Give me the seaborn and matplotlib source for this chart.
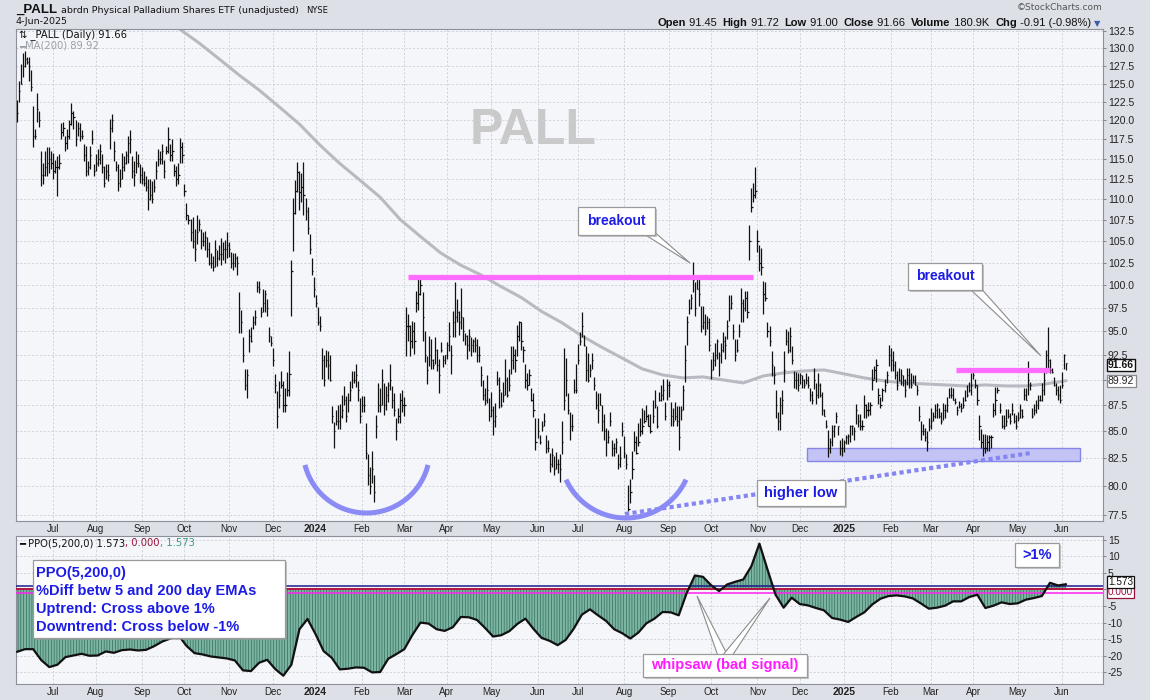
import matplotlib
matplotlib.use("Agg")
import matplotlib.pyplot as plt
import matplotlib.ticker as mticker
from matplotlib.lines import Line2D
from matplotlib.patches import Polygon, Rectangle
import numpy as np
import pandas as pd
import seaborn as sns

W, H = 1150, 700
LAST_DAY = "2025-06-04"

# daily bars (Jun 2023 -> 4 Jun 2025)
high = [
    122.8, 125.4, 127.8, 129.3, 129.6, 128.8, 128.8, 126.9, 121.9, 118.9, 123.7, 121.2, 116.0, 114.5, 116.0, 116.5, 116.5, 116.0, 115.8, 114.9,
    115.4, 115.6, 119.6, 119.8, 118.0, 118.9, 120.0, 122.4, 121.2, 120.0, 119.8, 119.6, 118.7, 116.9, 116.7, 114.7, 116.7, 118.7, 114.3, 115.6,
    116.3, 116.9, 115.6, 114.1, 114.3, 114.3, 120.2, 120.9, 117.3, 114.7, 114.3, 113.7, 115.8, 115.4, 116.0, 118.0, 118.7, 115.4, 114.7, 116.0,
    115.6, 114.3, 113.9, 113.5, 112.8, 112.4, 112.4, 112.2, 112.4, 114.7, 116.3, 116.0, 116.9, 114.9, 116.7, 119.1, 116.9, 117.5, 114.3, 114.1,
    114.5, 117.7, 117.1, 111.8, 109.5, 108.0, 107.6, 107.8, 106.4, 108.0, 107.6,
    106.4, 106.0, 106.2, 105.5, 104.9, 103.6, 103.2, 105.1, 103.9, 104.5, 105.3, 104.9, 105.1, 106.0, 104.9, 103.7, 103.6, 103.6, 103.3, 99.2,
    97.3, 94.4, 91.1, 91.1, 95.2, 95.4, 96.6, 97.3, 100.4, 100.4, 97.6, 99.5, 99.4, 98.4, 95.4, 94.5, 93.2, 90.6, 88.9, 89.9,
    90.9, 89.9, 89.2, 90.8, 92.9, 102.8, 110.1, 112.3, 114.6, 113.4, 113.2, 114.6, 110.1, 109.0, 105.8, 103.0, 100.9, 98.9, 97.6, 96.6,
    93.2, 92.5, 93.0, 92.9, 92.5, 87.4, 85.9, 87.0, 87.5, 87.6, 88.5, 89.4, 88.4, 88.7, 89.9, 90.9, 90.9, 91.6, 89.9, 88.2,
    88.4, 88.4, 85.8, 82.9, 81.7, 83.2, 81.0,
    86.6, 89.7, 89.2, 91.1, 89.7, 89.4, 89.8, 91.6, 89.4, 88.7, 86.3, 87.2, 88.7, 89.0, 88.3, 97.6, 96.8, 95.7, 96.1, 96.0,
    99.3, 100.8, 101.1, 99.2, 95.0, 92.4, 94.5, 94.2, 92.1, 94.4, 93.1, 92.1, 93.9, 92.5, 92.5, 93.9, 96.0, 93.5, 97.1, 100.3,
    98.4, 97.1, 99.7, 96.5, 94.8, 94.6, 95.2, 94.4, 94.2, 94.4, 94.2, 93.4, 91.4, 90.0, 89.2, 90.5, 88.2, 88.8, 87.4, 87.7,
    90.9, 90.3, 88.8, 89.8, 92.1, 90.3, 91.1, 93.4, 93.4, 93.1, 95.7, 96.1, 96.0, 93.4, 91.6, 90.7, 91.1, 89.2, 88.7, 86.3,
    86.3, 84.7, 86.0, 86.8, 84.7, 84.2, 83.0,
    83.5, 82.7, 83.1, 82.4, 82.9, 86.0, 93.2, 92.2, 88.7, 86.9, 86.7, 90.1, 91.6, 93.7, 94.9, 97.0, 94.6, 93.4, 92.7, 91.6,
    92.7, 90.3, 88.9, 88.7, 88.7, 87.5, 86.7, 85.3, 85.1, 86.9, 84.2, 83.9, 84.4, 82.9, 83.6, 85.9, 84.6, 82.9, 80.1, 80.6,
    83.2, 85.0, 84.6, 85.8, 86.3, 87.2, 87.0, 87.5, 86.7, 86.7, 88.0, 89.0, 87.4, 88.8, 89.5, 90.1, 87.8, 90.1, 89.9, 87.8,
    87.2, 87.8, 87.4, 87.4, 87.4, 89.5, 93.5, 96.6, 98.4, 99.0, 102.6, 100.3, 101.0, 100.8, 97.7, 97.7, 96.8, 96.6, 96.4, 92.1,
    92.8, 93.8, 94.2, 92.8, 93.8, 94.9, 94.5, 96.2,
    98.9, 98.9, 95.8, 94.2, 94.2, 95.8, 99.7, 98.4, 99.3, 99.3, 106.9, 111.3, 111.9, 113.9, 106.3, 104.5, 104.2, 100.4, 100.3, 96.0,
    95.5, 92.9, 91.4, 89.0, 86.9, 88.3, 89.0, 92.9, 95.2, 95.0, 95.4, 93.4, 90.9, 90.8, 90.7, 90.7, 90.5, 90.1, 90.7, 90.4,
    89.2, 88.9, 91.2, 89.7, 90.7, 89.7, 88.8, 87.1, 86.1, 85.1, 84.4, 85.6, 85.6, 86.9, 85.5, 84.2, 84.4, 84.2, 84.7, 84.8,
    85.6, 85.6, 85.4, 87.6, 86.7, 86.7, 86.1, 88.5, 87.6, 87.8, 87.8, 91.1, 91.4, 92.1, 89.2, 88.3, 89.2, 90.1, 90.9, 93.6,
    93.2, 92.9, 91.9, 90.9, 91.2,
    91.1, 90.5, 90.1, 91.2, 91.2, 90.7, 90.5, 90.5, 89.5, 87.4, 86.0, 85.7, 85.3, 85.0, 86.3, 87.2, 86.9, 87.6, 87.7, 87.2,
    86.9, 87.7, 87.6, 88.3, 89.2, 89.3, 89.2, 88.2, 87.4, 87.9, 87.7, 88.3, 89.0, 89.5, 89.8, 90.7, 91.1, 90.1, 89.5, 86.6,
    85.2, 84.8, 84.8, 84.7, 84.7, 84.7, 87.7, 89.3, 89.3, 87.7, 86.6, 86.6, 87.1, 87.1, 86.8, 87.7, 86.8, 86.6, 86.9, 87.6,
    87.1, 89.2, 89.2, 91.9, 89.8, 87.2, 87.6, 88.0, 88.5, 88.5, 89.7, 91.1, 93.0, 95.4, 92.1, 91.2, 90.3, 89.7, 89.4, 89.5,
    90.8, 92.6, 91.72,
]
low = [
    119.8, 122.5, 124.9, 125.9, 127.3, 127.8, 125.4, 124.0, 116.5, 117.5, 119.8, 119.1, 111.6, 111.8, 112.8, 112.8, 113.2, 113.7, 112.4, 113.2,
    110.3, 113.7, 117.5, 118.0, 116.0, 116.3, 117.5, 119.4, 118.9, 116.7, 118.0, 117.3, 117.5, 114.7, 112.8, 113.0, 113.7, 116.9, 112.8, 113.5,
    114.1, 114.3, 113.2, 111.4, 112.4, 112.2, 116.3, 118.5, 114.7, 113.5, 111.0, 111.4, 112.4, 113.5, 114.3, 114.5, 115.8, 112.6, 111.6, 113.2,
    113.9, 112.0, 111.8, 111.6, 111.0, 108.6, 109.9, 109.5, 110.8, 112.4, 114.1, 114.3, 114.3, 112.6, 115.6, 115.8, 114.7, 114.7, 112.8, 111.6,
    111.8, 114.5, 114.5, 110.3, 107.4, 107.0, 105.0, 104.2, 102.7, 104.6, 106.2,
    104.0, 104.4, 103.9, 103.1, 102.2, 101.9, 101.5, 102.0, 102.1, 102.8, 102.2, 102.8, 102.5, 103.0, 103.1, 101.9, 101.7, 102.0, 101.1, 94.8,
    94.8, 91.8, 89.0, 88.2, 92.8, 93.9, 95.2, 95.6, 99.2, 99.1, 96.5, 97.0, 97.0, 96.6, 93.9, 93.4, 91.4, 88.7, 85.3, 87.2,
    89.2, 86.9, 86.9, 88.4, 88.4, 96.6, 103.8, 108.2, 110.9, 108.7, 109.6, 108.1, 107.5, 105.8, 103.5, 101.1, 98.7, 97.6, 95.6, 95.0,
    90.1, 89.4, 91.3, 90.1, 89.9, 85.8, 83.5, 85.6, 85.2, 85.2, 86.3, 87.5, 85.9, 86.9, 87.9, 89.2, 89.7, 89.3, 87.9, 85.8,
    86.9, 86.9, 82.4, 80.1, 79.3, 80.3, 78.6,
    84.4, 86.9, 86.9, 87.5, 86.6, 87.0, 87.8, 89.0, 87.2, 86.5, 84.2, 85.8, 85.8, 86.9, 86.5, 92.4, 94.0, 92.4, 93.2, 92.6,
    97.0, 97.2, 98.9, 94.0, 91.8, 89.6, 91.4, 91.1, 91.1, 91.6, 90.9, 88.7, 92.8, 91.3, 91.6, 92.1, 92.9, 90.6, 94.4, 94.4,
    96.0, 94.6, 95.2, 94.0, 93.5, 92.1, 92.9, 92.4, 92.8, 92.8, 91.8, 91.8, 89.4, 88.0, 87.5, 87.7, 86.0, 86.4, 84.7, 85.4,
    89.5, 87.2, 87.3, 87.8, 88.5, 88.3, 88.9, 90.6, 91.1, 90.8, 92.4, 94.0, 93.0, 91.8, 89.2, 89.0, 89.5, 87.9, 86.4, 83.3,
    84.4, 83.8, 85.0, 85.5, 83.0, 83.1, 81.3,
    81.7, 81.0, 81.5, 81.2, 80.4, 82.9, 87.0, 88.4, 86.7, 84.2, 85.0, 88.7, 88.7, 91.6, 93.5, 94.4, 93.4, 89.9, 89.8, 90.3,
    91.1, 89.0, 87.1, 85.8, 87.5, 85.0, 84.2, 82.7, 83.9, 85.5, 82.7, 82.7, 83.0, 81.5, 81.7, 84.6, 82.5, 81.5, 77.8, 78.5,
    80.6, 83.2, 82.9, 83.6, 84.6, 84.8, 85.8, 86.1, 85.5, 84.9, 85.8, 87.2, 85.3, 87.9, 87.9, 88.0, 86.1, 88.0, 88.3, 85.5,
    85.5, 86.1, 85.5, 83.3, 86.1, 87.0, 89.8, 93.5, 96.8, 97.4, 99.2, 96.6, 99.5, 97.7, 94.9, 95.2, 94.6, 95.2, 92.9, 90.1,
    91.0, 91.4, 92.1, 90.4, 91.7, 92.8, 92.1, 94.2,
    96.1, 97.4, 94.2, 91.9, 92.8, 94.4, 96.0, 96.0, 97.1, 96.4, 102.8, 108.4, 109.6, 110.1, 103.7, 101.5, 101.1, 96.8, 98.2, 94.4,
    93.4, 90.4, 89.6, 86.3, 85.1, 85.1, 86.7, 89.8, 93.5, 92.7, 92.8, 91.6, 89.2, 89.1, 88.9, 89.6, 89.2, 89.2, 89.6, 89.2,
    87.9, 87.6, 89.1, 87.6, 88.2, 88.3, 86.6, 86.5, 85.3, 82.6, 83.0, 83.6, 84.5, 85.8, 84.7, 82.8, 82.7, 83.1, 83.8, 83.8,
    84.0, 84.7, 84.2, 85.7, 85.4, 85.1, 85.1, 86.3, 86.3, 86.5, 86.6, 89.0, 90.1, 89.8, 87.6, 87.2, 87.9, 88.8, 89.7, 91.4,
    90.9, 90.9, 90.1, 89.0, 89.9,
    89.5, 89.4, 88.3, 89.5, 89.2, 89.2, 89.7, 89.5, 88.5, 86.0, 84.2, 84.7, 84.1, 83.2, 85.0, 85.2, 86.0, 86.3, 86.3, 86.3,
    85.7, 86.1, 86.3, 86.9, 88.2, 88.2, 88.0, 87.6, 86.6, 87.2, 86.9, 87.2, 87.9, 88.3, 88.8, 88.5, 90.1, 89.2, 87.5, 84.2,
    83.5, 82.7, 83.0, 83.2, 83.2, 83.5, 86.4, 86.6, 88.7, 86.8, 85.3, 85.2, 85.5, 86.3, 85.7, 86.6, 85.8, 85.2, 86.0, 86.3,
    86.3, 88.0, 88.0, 88.5, 89.0, 86.3, 86.6, 86.8, 87.1, 87.9, 87.9, 88.5, 90.7, 91.1, 90.7, 90.7, 89.4, 88.5, 88.0, 87.7,
    89.2, 91.1, 91.00,
]
close = [
    121.0, 124.0, 125.0, 127.5, 128.5, 128.0, 127.5, 124.5, 118.0, 118.0, 121.5, 120.0, 113.0, 113.0, 114.0, 114.5, 115.0, 114.5, 113.5, 114.0,
    114.0, 114.5, 118.5, 119.0, 117.0, 118.0, 119.5, 121.0, 120.5, 117.5, 119.0, 118.0, 118.0, 115.5, 113.5, 114.0, 115.5, 117.5, 113.5, 114.5,
    115.0, 116.0, 114.0, 112.0, 113.5, 113.0, 119.0, 120.0, 116.0, 114.0, 112.0, 112.5, 114.0, 114.5, 115.5, 117.0, 117.5, 113.5, 113.0, 114.5,
    114.5, 113.0, 112.5, 112.0, 111.5, 110.0, 110.5, 110.0, 111.5, 113.5, 115.0, 115.0, 116.0, 113.5, 116.0, 117.5, 115.5, 116.0, 113.5, 112.5,
    113.0, 116.5, 115.5, 111.0, 108.0, 107.5, 106.0, 105.0, 104.0, 106.0, 107.0,
    105.0, 105.0, 105.5, 104.0, 102.5, 102.5, 102.0, 104.0, 103.0, 103.5, 103.5, 104.0, 104.0, 104.5, 104.0, 102.5, 102.5, 103.0, 102.5, 97.5,
    96.0, 92.5, 89.5, 90.5, 94.5, 94.0, 96.0, 96.5, 99.8, 99.5, 97.0, 98.0, 99.0, 97.5, 94.5, 93.8, 92.0, 89.5, 86.5, 88.5,
    89.5, 87.5, 87.5, 89.0, 90.6, 101.5, 108.3, 111.0, 113.3, 110.9, 111.5, 110.5, 108.5, 106.5, 104.0, 101.5, 99.5, 98.0, 96.0, 95.5,
    92.0, 90.0, 92.0, 91.5, 90.0, 86.5, 85.0, 86.0, 86.0, 86.5, 87.0, 88.0, 86.5, 88.0, 89.0, 90.0, 90.0, 90.5, 89.0, 86.5,
    87.5, 87.5, 83.0, 81.0, 80.0, 81.5, 79.5,
    85.5, 87.5, 87.5, 90.0, 87.5, 88.5, 89.5, 90.0, 88.0, 87.0, 85.0, 86.5, 88.0, 87.5, 87.5, 95.5, 95.5, 94.0, 95.0, 94.0,
    98.0, 99.0, 100.0, 96.5, 92.5, 91.0, 92.5, 92.0, 91.5, 93.0, 91.5, 90.5, 93.0, 92.0, 92.5, 93.5, 94.5, 92.5, 96.0, 96.5,
    97.0, 96.0, 96.5, 95.0, 94.5, 93.5, 94.5, 93.5, 94.0, 93.5, 92.5, 92.5, 90.5, 88.5, 88.0, 89.0, 86.5, 87.0, 86.0, 86.5,
    90.0, 89.0, 87.5, 88.5, 90.0, 88.5, 89.5, 92.0, 92.5, 92.0, 94.5, 96.0, 94.0, 93.0, 90.0, 89.5, 90.5, 88.0, 87.0, 84.0,
    85.0, 84.0, 85.5, 86.0, 83.5, 83.5, 82.0,
    82.8, 81.5, 82.0, 82.0, 81.5, 84.0, 88.0, 90.0, 87.0, 85.5, 85.5, 89.0, 89.0, 92.0, 94.0, 95.5, 93.5, 91.0, 90.0, 91.0,
    92.0, 89.5, 87.5, 87.0, 87.5, 86.0, 85.0, 84.0, 84.5, 86.0, 83.5, 83.5, 84.0, 82.0, 82.5, 85.0, 83.0, 82.0, 78.0, 79.5,
    81.5, 84.0, 83.0, 84.0, 85.0, 85.5, 86.0, 86.5, 85.5, 85.0, 86.5, 87.5, 85.5, 88.0, 88.5, 89.0, 86.5, 89.5, 89.5, 86.5,
    86.0, 86.5, 86.0, 84.5, 87.0, 89.0, 92.0, 96.0, 97.5, 98.5, 100.5, 97.5, 99.5, 99.0, 95.5, 96.0, 95.0, 96.0, 93.5, 91.0,
    92.0, 92.5, 94.0, 92.5, 93.0, 94.0, 93.5, 95.5,
    97.5, 98.0, 95.0, 92.5, 93.0, 95.0, 98.0, 97.5, 98.5, 97.0, 105.0, 109.0, 110.5, 111.0, 105.0, 102.5, 102.0, 99.0, 98.5, 95.0,
    94.0, 91.5, 90.5, 87.5, 86.0, 87.5, 88.0, 91.0, 94.0, 93.0, 94.5, 92.0, 90.0, 90.0, 89.5, 90.5, 90.0, 89.5, 90.0, 89.5,
    88.5, 88.0, 90.0, 88.5, 89.5, 88.5, 87.0, 86.5, 85.5, 83.5, 84.0, 85.0, 85.5, 86.5, 85.5, 83.5, 83.5, 84.0, 84.5, 84.6,
    85.5, 85.5, 85.0, 87.0, 86.0, 85.5, 85.5, 87.5, 87.0, 87.0, 87.5, 90.0, 91.0, 91.5, 88.5, 87.5, 89.0, 89.5, 90.5, 92.5,
    92.0, 91.5, 90.5, 89.5, 90.0,
    90.5, 90.0, 89.0, 90.5, 90.0, 89.5, 90.0, 89.5, 89.0, 86.5, 85.0, 85.0, 84.5, 84.0, 85.5, 86.0, 86.5, 87.0, 87.5, 86.5,
    86.0, 87.0, 87.0, 87.5, 88.5, 88.5, 88.0, 87.8, 87.0, 87.4, 87.2, 87.5, 88.0, 88.5, 89.0, 89.5, 90.5, 89.5, 88.0, 85.5,
    84.0, 83.5, 83.5, 84.0, 84.5, 84.5, 87.0, 88.0, 89.0, 87.0, 85.5, 85.5, 86.0, 86.5, 86.0, 87.0, 86.0, 85.5, 86.3, 87.0,
    86.5, 88.5, 88.0, 90.0, 89.5, 86.5, 87.0, 87.5, 88.0, 88.0, 89.0, 90.0, 92.5, 92.0, 91.0, 90.8, 89.5, 89.0, 88.5, 88.0,
    89.5, 92.57, 91.66,
]

# 200-day moving average, one reading every 10 sessions
ma_200 = [
    150.0, 147.8, 145.6, 143.3, 141.0, 138.8, 136.8, 134.8, 132.9, 130.8,
    128.5, 126.2, 124.1, 121.8, 119.5, 116.8, 114.4, 112.3, 110.2, 107.5,
    105.5, 103.6, 102.2, 101.1, 99.8, 98.6, 97.1, 95.9, 94.5, 93.3,
    92.2, 91.1, 90.5, 90.2, 90.3, 90.0, 89.7, 90.4, 90.7, 90.9,
    91.0, 90.6, 90.2, 89.9, 89.7, 89.6, 89.5, 89.4, 89.5, 89.4,
    89.4, 89.6, 89.92,
]
MA_STEP = 10

# PPO(5,200,0), one reading every 4 sessions
ppo = [
    -18.8, -18.0, -18.0, -21.3, -23.4, -22.7, -20.4, -19.9, -19.4, -20.0,
    -19.9, -18.7, -19.1, -18.3, -18.1, -18.4, -18.2, -17.1, -15.7, -14.8,
    -13.8, -17.0, -19.2, -19.6, -20.2, -20.5, -20.8, -21.4, -24.4, -24.6,
    -22.1, -21.2, -24.0, -26.0, -22.7, -12.0, -8.9, -13.5, -18.6, -20.6,
    -24.1, -23.9, -23.5, -23.6, -25.0, -24.9, -20.9, -19.5, -18.0, -13.7,
    -10.0, -10.3, -12.0, -12.5, -11.4, -8.3, -8.4, -9.2, -11.6, -14.2,
    -13.8, -12.6, -10.4, -8.8, -11.9, -14.6, -15.5, -16.8, -15.2, -11.8,
    -7.6, -6.0, -7.8, -9.5, -12.0, -13.2, -14.8, -13.0, -10.2, -8.8,
    -6.8, -6.9, -7.8, -1.0, 4.2, 3.8, 1.3, -0.5, 1.5, 2.3,
    3.0, 7.0, 13.8, 6.0, -1.6, -5.5, -2.5, -4.4, -4.8, -5.6,
    -6.3, -8.6, -9.1, -9.8, -8.3, -6.9, -4.5, -2.8, -2.0, -1.8,
    -2.1, -2.7, -4.2, -5.8, -5.5, -4.9, -3.6, -3.6, -2.3, -1.6,
    -5.6, -4.9, -3.9, -4.4, -4.2, -3.1, -2.6, -2.0, 2.0, 1.2,
    1.573,
]

price_ticks = [77.5, 80.0, 82.5, 85.0, 87.5, 90.0, 92.5, 95.0, 97.5, 100.0, 102.5, 105.0,
               107.5, 110.0, 112.5, 115.0, 117.5, 120.0, 122.5, 125.0, 127.5, 130.0, 132.5]
ppo_ticks = [-25, -20, -15, -10, -5, 0, 5, 10, 15]
# tick labels hidden behind the value tags
hidden_price_labels = [90.0]
hidden_ppo_labels = [0]

sns.set_style("white")
plt.rcParams["font.family"] = ["Liberation Sans", "DejaVu Sans"]
plt.rcParams["hatch.linewidth"] = 0.45
plt.rcParams["hatch.color"] = "#2b6656"

BG = "#dde0e7"
PANEL = "#f5f6fa"
GRID = "#cdd1da"
BLUE = "#1c1ce6"
MAGENTA = "#ff1aff"
VERDANA = ["DejaVu Sans"]

n = len(close)
idx = np.arange(n)
dates = pd.bdate_range(end=LAST_DAY, periods=n)
month_idx = [i for i in range(1, n) if dates[i].month != dates[i - 1].month]
month_lbl = [str(dates[i].year) if dates[i].month == 1 else dates[i].strftime("%b") for i in month_idx]

fig = plt.figure(figsize=(W / 100, H / 100), dpi=100, facecolor=BG)


def fx(px):
    return np.asarray(px) / W


def fy(py):
    return 1 - np.asarray(py) / H


ax = fig.add_axes([fx(16), fy(521), (1103 - 16) / W, (521 - 29) / H])
ax2 = fig.add_axes([fx(16), fy(684), (1103 - 16) / W, (684 - 536) / H])
ax.set_yscale("log")

for a in (ax, ax2):
    a.set_facecolor(PANEL)
    a.set_axisbelow(True)
    a.set_xlim(-0.5, n - 1 + 18.3)
    a.set_xticks(month_idx)
    a.set_xticklabels(month_lbl)
    a.yaxis.tick_right()
    a.tick_params(axis="x", length=0, pad=2, labelsize=7, colors="#222")
    a.tick_params(axis="y", which="both", length=2.5, width=0.6, pad=1, labelsize=7.5,
                  labelcolor="#222", color="#777")
    a.grid(True, color=GRID, linestyle=(0, (2, 2)), linewidth=0.7)
    for sp in a.spines.values():
        sp.set_color("#8b909a")
        sp.set_linewidth(0.8)
    for lbl, t in zip(a.get_xticklabels(), month_lbl):
        if t.isdigit():
            lbl.set_fontweight("bold")
            lbl.set_fontsize(7.5)

# ---- price panel
ax.set_ylim(76.97, 132.79)
ax.yaxis.set_major_locator(mticker.FixedLocator(price_ticks))
ax.yaxis.set_major_formatter(mticker.FuncFormatter(
    lambda v, _: "" if any(abs(v - h) < 1e-6 for h in hidden_price_labels) else f"{v:.1f}"))
ax.yaxis.set_minor_locator(mticker.NullLocator())

ax.text(fx(533), fy(131), "PALL", transform=fig.transFigure, fontsize=36, fontweight="bold",
        color="#c9c9c9", ha="center", va="center", zorder=0.5)

ax.add_patch(Rectangle((391.7, 82.3), 527.0 - 391.7, 83.5 - 82.3, facecolor="#c3c3f5",
                       edgecolor="#8686e6", lw=1, zorder=1.5))
sns.lineplot(x=np.arange(len(ma_200)) * MA_STEP, y=ma_200, ax=ax, color="#b7bbc1",
             linewidth=2.2, zorder=2)
ax.vlines(idx, low, high, color="#111111", lw=0.9, zorder=3)
ax.hlines(close, idx, idx + 0.6, color="#111111", lw=0.9, zorder=3)

ax.plot([193.8, 364.9], [100.9, 100.9], color="#ff6cff", lw=3.8, solid_capstyle="butt", zorder=4)
ax.plot([465.5, 512.1], [90.95, 90.95], color="#ff6cff", lw=3.8, solid_capstyle="butt", zorder=4)
ax.plot([301.4, 502.7], [77.57, 83.0], color="#8686f2", lw=3, linestyle=(0, (1, 0.8)),
        dash_capstyle="butt", zorder=4)
ax.set_xlabel("")
ax.set_ylabel("")

# ---- PPO panel
ax2.set_ylim(-28.5, 16.1)
ax2.yaxis.set_major_locator(mticker.FixedLocator(ppo_ticks))
ax2.yaxis.set_major_formatter(mticker.FuncFormatter(
    lambda v, _: "" if any(abs(v - h) < 1e-6 for h in hidden_ppo_labels) else f"{v:.0f}"))
ppo_x = np.linspace(0, n - 1, len(ppo))
ax2.fill_between(ppo_x, ppo, 0, facecolor="#7db5a3", edgecolor="#2b6656", hatch="||||||",
                 linewidth=0, zorder=2)
ax2.axhline(0, color="#b3123f", lw=1.4, zorder=3)
sns.lineplot(x=ppo_x, y=ppo, ax=ax2, color="#111111", linewidth=1.6, zorder=4)
ax2.axhline(1, color="#1b1b8a", lw=1.1, zorder=3)
ax2.axhline(-1, color="#ff22ee", lw=1.1, zorder=3)
ax2.set_xlabel("")
ax2.set_ylabel("")


# ---- annotations (figure pixels)
def arc(cx, cy, r, t0, t1):
    t = np.radians(np.linspace(t0, t1, 80))
    xs = cx + r * np.cos(t)
    ys = cy - r * np.sin(t)
    fig.add_artist(Line2D(fx(xs), fy(ys), transform=fig.transFigure, color="#8b8bf6",
                          lw=3.6, solid_capstyle="butt"))


def wedge(base, tip):
    pts = [(fx(x), fy(y)) for x, y in base + [tip]]
    fig.add_artist(Polygon(pts, closed=True, transform=fig.transFigure, facecolor="white",
                           edgecolor="#8c8c8c", lw=0.8))


def callout(x0, y0, x1, y1, text=None, color=BLUE, size=10.5):
    w, h = (x1 - x0) / W, (y1 - y0) / H
    fig.add_artist(Rectangle((fx(x0 + 2), fy(y1 + 2)), w, h, transform=fig.transFigure,
                             facecolor="#9c9c9c", edgecolor="none", alpha=0.55))
    fig.add_artist(Rectangle((fx(x0), fy(y1)), w, h, transform=fig.transFigure,
                             facecolor="white", edgecolor="#9a9a9a", lw=0.9))
    if text:
        fig.text(fx((x0 + x1) / 2), fy((y0 + y1) / 2), text, ha="center", va="center",
                 color=color, fontsize=size, fontweight="bold")


arc(366.5, 449.6, 63.4, 194, 346)
arc(626.0, 451.9, 66.1, 204.8, 335.2)

wedge([(644, 234), (652, 230)], (690, 263))
wedge([(970, 289), (978, 285)], (1041, 356))
wedge([(718, 656), (728, 656)], (697, 596))
wedge([(722, 656), (732, 656)], (770, 598))

callout(578, 207, 655, 235, "breakout", size=10)
callout(908, 263, 982, 290, "breakout", size=10)
callout(757, 480, 845, 506, "higher low")
callout(1015, 543, 1059, 567, ">1%")
callout(643, 654, 807, 677, "whipsaw (bad signal)", color=MAGENTA)
callout(33, 560, 285, 638)
for i, line in enumerate(["PPO(5,200,0)", "%Diff betw 5 and 200 day EMAs",
                          "Uptrend: Cross above 1%", "Downtrend: Cross below -1%"]):
    fig.text(fx(36), fy(573 + 17.9 * i), line, ha="left", va="center", color=BLUE,
             fontsize=10.5, fontweight="bold")


def put_runs(x, y, runs, ha="left"):
    r = fig.canvas.get_renderer()
    texts = [fig.text(0, fy(y), s, va="center", **kw) for s, kw in runs]
    widths = [t.get_window_extent(renderer=r).width for t in texts]
    cur = x - sum(widths) if ha == "right" else x
    for t, w in zip(texts, widths):
        t.set_x(fx(cur))
        cur += w


# header
fig.text(fx(16), fy(10), "_PALL", fontsize=9.5, fontweight="bold", va="center", color="#111")
fig.text(fx(61), fy(10.5), "abrdn Physical Palladium Shares ETF (unadjusted)", family=VERDANA,
         fontsize=6.8, va="center", color="#111")
fig.text(fx(306), fy(10.5), "NYSE", family=VERDANA, fontsize=6, va="center", color="#111")
fig.text(fx(16), fy(22), "4-Jun-2025", family=VERDANA, fontsize=6.8, va="center", color="#111")
fig.text(fx(1103), fy(8), "\u00a9StockCharts.com", family=VERDANA, fontsize=6.5, ha="right",
         va="center", color="#555")
b = dict(fontsize=8, fontweight="bold", color="#111")
r = dict(fontsize=8, color="#111")
put_runs(1091, 23, [("Open", b), (" 91.45  ", r), ("High", b), (" 91.72  ", r), ("Low", b),
                    (" 91.00  ", r), ("Close", b), (" 91.66  ", r), ("Volume", b),
                    (" 180.9K  ", r), ("Chg", b), (" -0.91 (-0.98%)", r)], ha="right")
fig.text(fx(1097), fy(23.5), "\u25bc", family=VERDANA, fontsize=6, ha="center", va="center",
         color="#3d5ea6")

# legends
leg = dict(family=VERDANA, fontsize=7.2)
put_runs(19, 35, [("\u21c5 _PALL (Daily) 91.66", dict(color="#111", **leg))])
put_runs(19, 46, [("\u2501", dict(color="#9aa0a6", **leg)),
                  ("MA(200) 89.92", dict(color="#9aa0a6", **leg))])
put_runs(19, 543, [("\u2501 PPO(5,200,0) 1.573", dict(color="#111", **leg)),
                   (", 0.000", dict(color="#99113a", **leg)),
                   (", 1.573", dict(color="#3a9a88", **leg))])

# value tags on the right axes
fig.text(fx(1108), fy(381), "89.92", fontsize=7.5, color="#222", va="center",
         bbox=dict(boxstyle="square,pad=0.12", facecolor="white", edgecolor="#8a8a8a", lw=0.9))
fig.text(fx(1108), fy(365), "91.66", fontsize=7.5, fontweight="bold", color="#111", va="center",
         bbox=dict(boxstyle="square,pad=0.12", facecolor="white", edgecolor="#111", lw=1))
fig.text(fx(1108), fy(592), "0.000", fontsize=7.2, color="#99113a", va="center",
         bbox=dict(boxstyle="square,pad=0.1", facecolor="white", edgecolor="#99113a", lw=0.9))
fig.text(fx(1108), fy(582), "1.573", fontsize=7.2, color="#111", va="center",
         bbox=dict(boxstyle="square,pad=0.1", facecolor="white", edgecolor="#111", lw=0.9))

fig.savefig("out.png", dpi=100, facecolor=BG)
